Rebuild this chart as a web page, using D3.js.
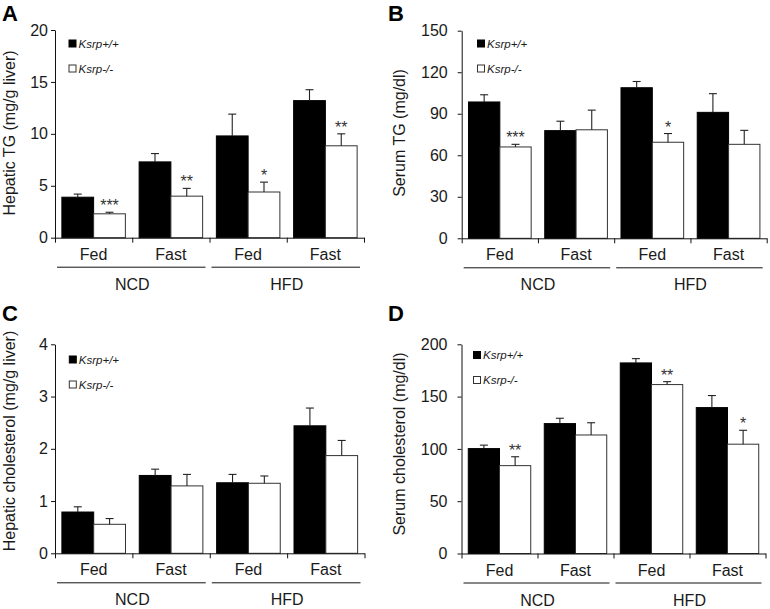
<!DOCTYPE html>
<html>
<head>
<meta charset="utf-8">
<script src="https://cdn.jsdelivr.net/npm/d3@7"></script>
<style>
  html, body { margin: 0; padding: 0; background: #fff; }
  svg { display: block; }
  text { font-family: "Liberation Sans", Arial, Helvetica, sans-serif; fill: #1a1a1a; }
</style>
</head>
<body>
<svg id="chart" width="770" height="609"></svg>
<script>
// ---------------- data ----------------
const categories = ["Fed", "Fast", "Fed", "Fast"];
const diets = ["NCD", "HFD"];
const seriesNames = ["Ksrp+/+", "Ksrp-/-"];

// Panel A: Hepatic TG (mg/g liver)
const hepTGTicks = [0, 5, 10, 15, 20];
const hepTG_wt = [3.9, 7.3, 9.8, 13.2];
const hepTG_wtErr = [0.3, 0.8, 2.1, 1.05];
const hepTG_ko = [2.3, 4.0, 4.4, 8.85];
const hepTG_koErr = [0.15, 0.75, 0.95, 1.15];
const hepTG_sig = ["***", "**", "*", "**"];

// Panel B: Serum TG (mg/dl)
const serTGTicks = [0, 30, 60, 90, 120, 150];
const serTG_wt = [98.5, 77.8, 108.8, 91.0];
const serTG_wtErr = [5.2, 6.8, 4.5, 13.5];
const serTG_ko = [66.0, 78.4, 69.4, 67.9];
const serTG_koErr = [1.9, 14.2, 6.3, 10.1];
const serTG_sig = ["***", "", "*", ""];

// Panel C: Hepatic cholesterol (mg/g liver)
const hepChTicks = [0, 1, 2, 3, 4];
const hepCh_wt = [0.79, 1.49, 1.35, 2.44];
const hepCh_wtErr = [0.10, 0.12, 0.16, 0.34];
const hepCh_ko = [0.555, 1.29, 1.34, 1.87];
const hepCh_koErr = [0.11, 0.22, 0.14, 0.29];
const hepCh_sig = ["", "", "", ""];

// Panel D: Serum cholesterol (mg/dl)
const serChTicks = [0, 50, 100, 150, 200];
const serCh_wt = [100.3, 124.2, 182.2, 139.5];
const serCh_wtErr = [3.3, 5.1, 4.1, 11.5];
const serCh_ko = [84.0, 113.3, 161.5, 104.5];
const serCh_koErr = [8.5, 11.7, 2.8, 13.3];
const serCh_sig = ["**", "", "**", "*"];

// ---------------- layout (styles / positions) ----------------
const panels = [
  { letter: "A", label: "Hepatic TG (mg/g liver)", ticks: hepTGTicks,
    wt: hepTG_wt, wtErr: hepTG_wtErr, ko: hepTG_ko, koErr: hepTG_koErr, sig: hepTG_sig,
    L: { x0: 55, x1: 364, y0: 237.7, y1: 30, lx: 2, ly: 21, labX: 9.5, labY: 133, pad: 3, legX: 69, legY: 43.5 } },
  { letter: "B", label: "Serum TG (mg/dl)", ticks: serTGTicks,
    wt: serTG_wt, wtErr: serTG_wtErr, ko: serTG_ko, koErr: serTG_koErr, sig: serTG_sig,
    L: { x0: 461.7, x1: 766.7, y0: 238.3, y1: 30.7, lx: 388, ly: 21, labX: 399.5, labY: 133, pad: 10, legX: 477.5, legY: 43.5 } },
  { letter: "C", label: "Hepatic cholesterol (mg/g liver)", ticks: hepChTicks,
    wt: hepCh_wt, wtErr: hepCh_wtErr, ko: hepCh_ko, koErr: hepCh_koErr, sig: hepCh_sig,
    L: { x0: 55, x1: 364.5, y0: 553.3, y1: 344.3, lx: 2, ly: 321, labX: 9.5, labY: 441, pad: 3, legX: 69.3, legY: 359.5 } },
  { letter: "D", label: "Serum cholesterol (mg/dl)", ticks: serChTicks,
    wt: serCh_wt, wtErr: serCh_wtErr, ko: serCh_ko, koErr: serCh_koErr, sig: serCh_sig,
    L: { x0: 461.5, x1: 765.5, y0: 553.5, y1: 344.3, lx: 388, ly: 321, labX: 399.5, labY: 444, pad: 10, legX: 473.5, legY: 355 } }
];

const svg = d3.select("#chart");
const ink = "#111";
const fs = 16;

panels.forEach(p => {
  const L = p.L;
  const g = svg.append("g");
  const idx = d3.range(categories.length);

  const x = d3.scaleBand().domain(idx).range([L.x0, L.x1]).paddingInner(0).paddingOuter(0);
  const bw = x.bandwidth();
  const xs = d3.scaleBand().domain(seriesNames).range([0, bw]).paddingOuter(0.2165).paddingInner(0);
  const y = d3.scaleLinear().domain([0, d3.max(p.ticks)]).range([L.y0, L.y1]);
  const xEdge = d3.scaleLinear().domain([0, categories.length]).range([L.x0, L.x1]);

  // panel letter
  g.append("text").attr("x", L.lx).attr("y", L.ly)
    .style("font-size", "22px").style("font-weight", "bold").style("fill", "#000")
    .text(p.letter);

  // y label
  g.append("text")
    .attr("transform", `translate(${L.labX},${L.labY}) rotate(-90)`)
    .attr("text-anchor", "middle").attr("dominant-baseline", "central")
    .style("font-size", fs + "px")
    .text(p.label);

  // bars
  const rows = idx.map(i => [
    { s: seriesNames[0], i, v: p.wt[i], e: p.wtErr[i] },
    { s: seriesNames[1], i, v: p.ko[i], e: p.koErr[i] }
  ]).flat();

  const bars = g.append("g");
  bars.selectAll("rect").data(rows).join("rect")
    .attr("x", d => x(d.i) + xs(d.s))
    .attr("y", d => y(d.v))
    .attr("width", xs.bandwidth())
    .attr("height", d => y(0) - y(d.v))
    .attr("fill", d => d.s === seriesNames[0] ? "#000" : "#fff")
    .attr("stroke", d => d.s === seriesNames[0] ? "#000" : "#333")
    .attr("stroke-width", 1);

  // error bars
  const cap = 4;
  const eb = g.append("g").attr("stroke", "#222").attr("stroke-width", 1.1);
  rows.forEach(d => {
    const cx = x(d.i) + xs(d.s) + xs.bandwidth() / 2;
    eb.append("line").attr("x1", cx).attr("x2", cx).attr("y1", y(d.v)).attr("y2", y(d.v + d.e));
    eb.append("line").attr("x1", cx - cap).attr("x2", cx + cap).attr("y1", y(d.v + d.e)).attr("y2", y(d.v + d.e));
  });

  // significance marks
  idx.forEach(i => {
    if (!p.sig[i]) return;
    const cx = x(i) + xs(seriesNames[1]) + xs.bandwidth() / 2;
    g.append("text").attr("x", cx).attr("y", y(p.ko[i] + p.koErr[i]) - 1)
      .attr("text-anchor", "middle").style("font-size", "16px").style("fill", "#333")
      .text(p.sig[i]);
  });

  // y axis
  const ya = g.append("g").attr("transform", `translate(${L.x0},0)`)
    .call(d3.axisLeft(y).tickValues(p.ticks).tickFormat(d3.format("~g"))
      .tickSize(4).tickSizeOuter(0).tickPadding(L.pad));
  ya.selectAll("path,line").attr("stroke", ink);
  ya.selectAll("text").style("font-size", fs + "px").attr("fill", "#1a1a1a")
    .style("font-family", "'Liberation Sans', Arial, sans-serif");

  // x axis (ticks at category boundaries)
  const xa = g.append("g").attr("transform", `translate(0,${L.y0})`)
    .call(d3.axisBottom(xEdge).tickValues(d3.range(categories.length + 1)).tickSize(5).tickSizeOuter(0).tickFormat(""));
  xa.selectAll("path,line").attr("stroke", ink);

  // category labels
  g.selectAll(".cat").data(idx).join("text")
    .attr("x", i => x(i) + bw / 2).attr("y", L.y0 + 22)
    .attr("text-anchor", "middle").style("font-size", fs + "px")
    .text(i => categories[i]);

  // diet group underline + labels
  diets.forEach((dname, k) => {
    const gs = x(k * 2), ge = x(k * 2 + 1) + bw;
    g.append("line").attr("x1", gs + 2).attr("x2", ge - 4)
      .attr("y1", L.y0 + 29.5).attr("y2", L.y0 + 29.5)
      .attr("stroke", ink).attr("stroke-width", 1);
    g.append("text").attr("x", (gs + ge) / 2).attr("y", L.y0 + 52)
      .attr("text-anchor", "middle").style("font-size", fs + "px")
      .text(dname);
  });

  // legend
  seriesNames.forEach((s, k) => {
    const cy = L.legY + k * 25;
    g.append("rect").attr("x", L.legX).attr("y", cy - 3.5).attr("width", 7).attr("height", 7)
      .attr("fill", k === 0 ? "#000" : "#fff").attr("stroke", k === 0 ? "#000" : "#333").attr("stroke-width", 1);
    g.append("text").attr("x", L.legX + 9.5).attr("y", cy + 4)
      .style("font-size", "11.5px").style("font-style", "italic")
      .text(s);
  });
});
</script>
</body>
</html>
